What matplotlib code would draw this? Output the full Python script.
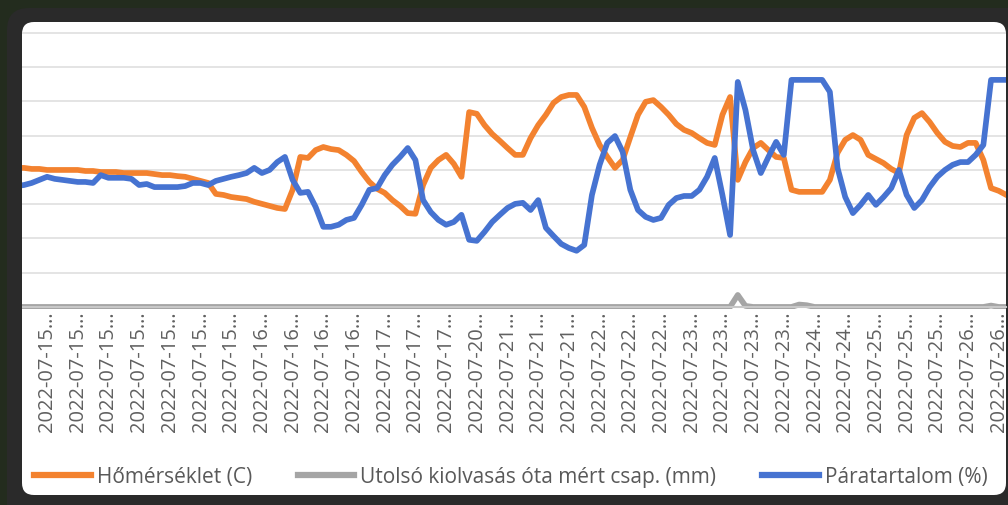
import numpy as np
import matplotlib
matplotlib.use("Agg")
import matplotlib.pyplot as plt
from matplotlib.patches import FancyBboxPatch, Rectangle
from matplotlib.lines import Line2D
from matplotlib.transforms import IdentityTransform, offset_copy

plt.rcParams['font.family'] = ['Open Sans', 'DejaVu Sans']

# one label every 4 readings, day part of the (truncated) timestamp
days = (['2022-07-15'] * 8 + ['2022-07-16'] * 4 + ['2022-07-17'] * 3 +
        ['2022-07-20'] * 1 + ['2022-07-21'] * 3 + ['2022-07-22'] * 3 +
        ['2022-07-23'] * 4 + ['2022-07-24'] * 2 + ['2022-07-25'] * 3 +
        ['2022-07-26'] * 2)

homerseklet = [
    40.6, 40.6, 40.3, 40.3, 40.0, 40.0, 40.0, 40.0, 40.0, 39.7,
    39.7, 39.4, 39.4, 39.4, 39.1, 39.1, 39.1, 39.1, 38.8, 38.5,
    38.5, 38.2, 38.0, 37.4, 36.8, 36.2, 33.0, 32.7, 32.1, 31.8,
    31.5, 30.7, 30.1, 29.5, 28.9, 28.6, 34.2, 43.8, 43.5, 45.8,
    46.7, 46.1, 45.8, 44.4, 42.6, 39.4, 36.5, 34.5, 33.3, 31.2,
    29.5, 27.4, 27.2, 35.6, 40.6, 42.9, 44.4, 41.8, 38.0, 56.9,
    56.4, 53.1, 50.5, 48.5, 46.4, 44.4, 44.4, 49.3, 53.1, 56.1,
    59.6, 61.3, 61.9, 61.9, 58.4, 52.3, 47.3, 43.8, 40.6, 42.9,
    49.6, 56.1, 59.9, 60.4, 58.4, 56.1, 53.4, 51.7, 50.8, 49.3,
    47.9, 47.3, 56.1, 61.3, 37.1, 42.3, 46.4, 47.9, 45.8, 43.8,
    43.5, 34.2, 33.6, 33.6, 33.6, 33.6, 37.1, 45.0, 48.8, 50.2,
    48.8, 44.4, 43.2, 42.0, 40.3, 39.1, 50.2, 55.2, 56.6, 54.0,
    50.8, 48.2, 47.0, 46.7, 47.9, 47.9, 42.9, 34.7, 33.9, 32.7]

csapadek = [0.0] * 130
csapadek[94] = 3.5
csapadek[95] = 0.3
csapadek[102] = 0.7
csapadek[103] = 0.5
csapadek[127] = 0.4

paratartalom = [
    35.3, 35.6, 36.2, 37.1, 38.0, 37.4, 37.1, 36.8, 36.5, 36.5,
    36.2, 38.5, 37.7, 37.7, 37.7, 37.4, 35.6, 35.9, 35.0, 35.0,
    35.0, 35.0, 35.3, 36.2, 36.2, 35.6, 36.8, 37.4, 38.0, 38.5,
    39.1, 40.6, 39.1, 40.0, 42.3, 43.8, 37.1, 33.3, 33.6, 29.2,
    23.4, 23.4, 24.0, 25.4, 26.0, 29.8, 34.2, 34.7, 38.5, 41.5,
    43.8, 46.4, 42.9, 31.2, 27.7, 25.4, 24.0, 24.8, 26.9, 19.6,
    19.3, 21.9, 24.8, 26.9, 28.9, 30.1, 30.4, 28.3, 31.2, 23.1,
    20.7, 18.4, 17.2, 16.4, 18.1, 32.7, 41.5, 47.9, 49.9, 45.3,
    34.2, 28.3, 26.3, 25.4, 26.0, 29.8, 31.8, 32.4, 32.4, 34.2,
    38.0, 43.5, 32.7, 21.0, 65.7, 57.5, 45.8, 39.1, 43.8, 48.2,
    44.4, 66.3, 66.3, 66.3, 66.3, 66.3, 62.8, 40.6, 32.1, 27.4,
    29.8, 32.7, 29.8, 32.1, 34.7, 40.0, 32.7, 28.9, 31.2, 35.0,
    38.0, 40.0, 41.5, 42.3, 42.3, 44.4, 47.3, 66.3, 66.3, 66.3]

W, H = 1008, 505
fig = plt.figure(figsize=(W / 100, H / 100), dpi=100)
fig.patch.set_facecolor('#232c1e')
bezel_col = '#2a2a2a'

# dark bezel and white chart panel (pixel coordinates, origin bottom-left)
bezel = FancyBboxPatch((7, -30), 1040, 527, boxstyle="round,pad=0,rounding_size=22",
                       transform=IdentityTransform(), fc=bezel_col, ec='none', zorder=-3)
panel = FancyBboxPatch((22, 10), 984, 473, boxstyle="round,pad=0,rounding_size=12",
                       transform=IdentityTransform(), fc='white', ec='none', zorder=-2)
fig.add_artist(bezel)
fig.add_artist(panel)

ax = fig.add_axes([22 / W, 196 / H, 984 / W, 287 / H])
ax.set_facecolor('none')

x = np.arange(len(homerseklet))
c_orange = '#F3822F'
c_grey = '#A5A5A5'
c_blue = '#4673D1'
ax.plot(x, homerseklet, color=c_orange, lw=4.1, solid_joinstyle='round', zorder=3)
ax.plot(x, csapadek, color=c_grey, lw=4.1, solid_joinstyle='round', zorder=2)
ax.plot(x, paratartalom, color=c_blue, lw=4.1, solid_joinstyle='round', zorder=4)

ax.set_xlim(0.74, 128.95)
ax.set_ylim(-0.6, 83.2)
ax.set_yticks(np.arange(10, 81, 10))
ax.yaxis.grid(True, color='#dddddd', lw=1.1)
ax.set_axisbelow(True)
ax.tick_params(axis='y', length=0, labelleft=False)

for s in ['top', 'right', 'left']:
    ax.spines[s].set_visible(False)
ax.spines['bottom'].set_position(('data', 0))
ax.spines['bottom'].set_color('#c8c8c8')
ax.spines['bottom'].set_linewidth(1.5)

labels = [d + '…' for d in days]
ticks = np.arange(0, len(days) * 4, 4)
ax.set_xticks(ticks[1:])
ax.set_xticklabels(labels[1:], rotation=90, fontsize=14.5, color='#606060')
ax.tick_params(axis='x', length=0, pad=3)

# the first label sits partly outside the white panel: draw it, then cover
# the part that falls on the bezel
fig.text(ticks[0], 0, labels[0], rotation=90, fontsize=14.5, color='#606060',
         ha='center', va='top', zorder=3,
         transform=offset_copy(ax.transData, fig, y=-3, units='points'))
fig.add_artist(Rectangle((7, 40), 15, 160, transform=IdentityTransform(),
                         fc=bezel_col, ec='none', zorder=5))

handles = [Line2D([], [], color=c_orange, lw=4.5),
           Line2D([], [], color=c_grey, lw=4.5),
           Line2D([], [], color=c_blue, lw=4.5)]
names = ['Hőmérséklet (C)', 'Utolsó kiolvasás óta mért csap. (mm)', 'Páratartalom (%)']
fig.legend(handles, names, loc='center', bbox_to_anchor=(511 / W, 28 / H), ncol=3,
           frameon=False, fontsize=15, labelcolor='#595959', handlelength=2.7,
           handletextpad=0.3, columnspacing=2.2, borderaxespad=0)

fig.savefig('out.png', dpi=100, facecolor=fig.get_facecolor())
